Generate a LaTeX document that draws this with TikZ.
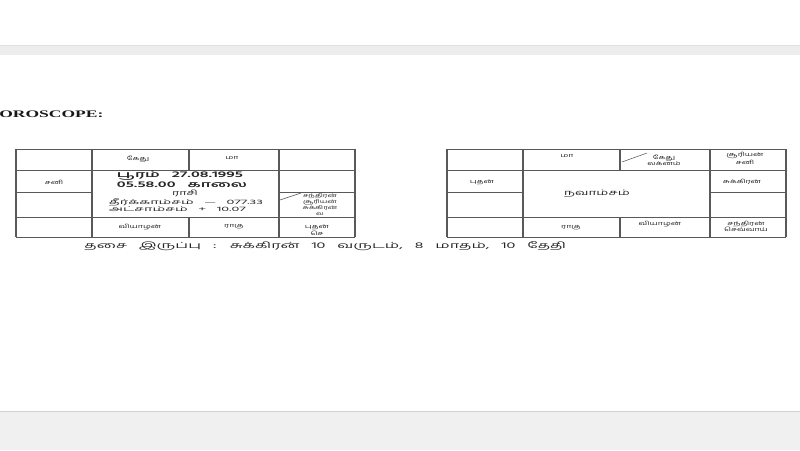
\documentclass[tikz,border=0pt]{standalone}
\usepackage{fontspec}
\setmainfont{Liberation Serif}
\newfontfamily\tamil[Script=Tamil]{Hind Madurai}
\newfontfamily\tamilw[Script=Tamil,WordSpace=3]{Hind Madurai}
\begin{document}
\begin{tikzpicture}[x=1pt,y=-1pt,
  hl/.style={draw=black!65,line width=0.7pt},
  vl/.style={draw=black!65,line width=1.3pt},
  tt/.style={font=\tamil\fontsize{5.5}{6.2}\selectfont, inner sep=0pt, align=center, xscale=1.6, text=black!85},
  big/.style={font=\tamilw\bfseries\fontsize{8.5}{7.6}\selectfont, inner sep=0pt, align=left, xscale=1.9, text=black!85},
  mid/.style={font=\tamil\fontsize{7}{6}\selectfont, inner sep=0pt, align=left, xscale=1.8, text=black!85},
  coord/.style={font=\tamilw\fontsize{6.5}{5.8}\selectfont, inner sep=0pt, align=left, xscale=2.2, text=black!85},
  foot/.style={font=\tamilw\fontsize{8.5}{9}\selectfont, inner sep=0pt, xscale=1.9, text=black!85},
]
\useasboundingbox (0,0) rectangle (800,450);
% page bands
\fill[black!7] (0,45) rectangle (800,55);
\draw[black!12,line width=0.6pt] (0,45.3) -- (800,45.3);
\fill[black!6] (0,411) rectangle (800,450);
\draw[black!18,line width=1pt] (0,411) -- (800,411);
% title
\node[font=\bfseries\fontsize{10}{10}\selectfont, inner sep=0pt, anchor=west, xscale=1.75, text=black!90] (title) at (-1,114) {OROSCOPE:};
% grids
\foreach \ox in {0,431}{
  \begin{scope}[xshift=\ox pt]
    \draw[hl] (16,149) -- (355,149);
    \draw[hl] (16,170) -- (355,170);
    \draw[hl] (16,192) -- (92,192) (279,192) -- (355,192);
    \draw[hl] (16,217) -- (355,217);
    \draw[hl] (16,237) -- (355,237);
    \draw[vl] (16,149) -- (16,237);
    \draw[vl] (92,149) -- (92,237);
    \draw[vl] (279,149) -- (279,237);
    \draw[vl] (355,149) -- (355,237);
    \draw[vl] (189,149) -- (189,170) (189,217) -- (189,237);
  \end{scope}
}
% left chart (rasi)
\node[tt] (l1) at (138,159) {கேது};
\node[tt] (l2) at (232,158) {மா};
\node[tt] (l3) at (54,182) {சனி};
\node[big] (l4) at (182,179.5) {பூரம் 27.08.1995\\05.58.00 காலை};
\node[mid] (l5) at (185,193) {ராசி};
\node[coord] (l6) at (186,205.5) {தீர்க்காம்சம் — 077.33\\அட்சாம்சம் + 10.07};
\coordinate (sa) at (280,200);
\coordinate (sb) at (301,193);
\draw[black!70,line width=0.5pt] (sa) -- (sb);
\node[tt, font=\tamil\fontsize{5}{5.9}\selectfont] (l7) at (320,204.5) {சந்திரன்\\சூரியன்\\சுக்கிரன்\\ல};
\node[tt] (l8) at (140,227) {வியாழன்};
\node[tt] (l9) at (234,227) {ராகு};
\node[tt] (l10) at (317,230) {புதன்\\செ};
% footer
\node[foot, anchor=west] (dasa) at (84,246) {தசை இருப்பு : சுக்கிரன் 10 வருடம், 8 மாதம், 10 தேதி};
% right chart (navamsam)
\node[tt] (r1) at (567,156) {மா};
\coordinate (ra) at (622,162);
\coordinate (rb) at (647,153);
\draw[black!70,line width=0.5pt] (ra) -- (rb);
\node[tt] (r2) at (664,160) {கேது\\லக்னம்};
\node[tt] (r3) at (745,158.5) {சூரியன்\\சனி};
\node[tt] (r4) at (482,182) {புதன்};
\node[tt] (r5) at (742,182) {சுக்கிரன்};
\node[mid, font=\tamil\fontsize{7.5}{7}\selectfont] (r6) at (597,194) {நவாம்சம்};
\node[tt] (r7) at (571,228) {ராகு};
\node[tt] (r8) at (660,224) {வியாழன்};
\node[tt] (r9) at (746,226) {சந்திரன்\\செவ்வாய்};
\end{tikzpicture}
\end{document}
